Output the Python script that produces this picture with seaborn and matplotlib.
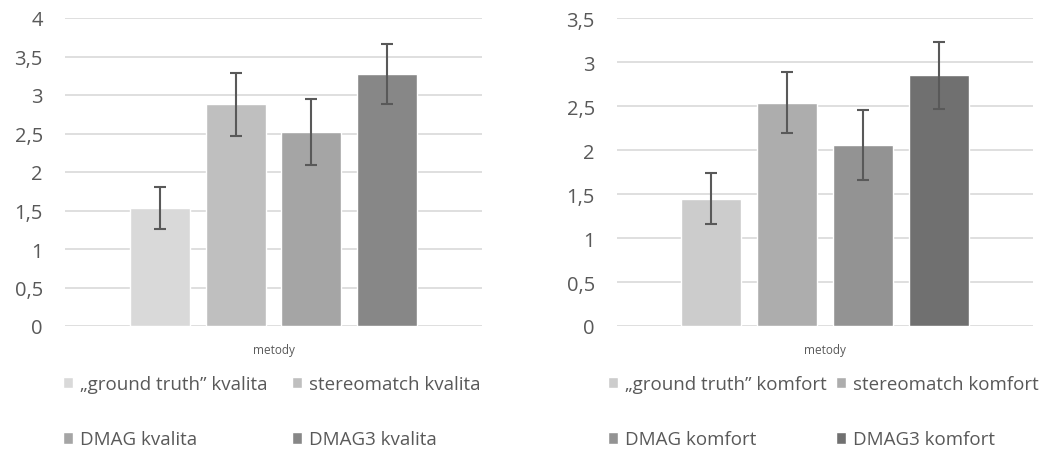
import numpy as np
import pandas as pd
import matplotlib
matplotlib.use("Agg")
import matplotlib.pyplot as plt
import seaborn as sns
from matplotlib.ticker import FuncFormatter

sns.set_theme(style="white")
plt.rcParams['font.family'] = ['Open Sans', 'DejaVu Sans']

metody = ["„ground truth”", "stereomatch", "DMAG", "DMAG3"]

kvalita = [1.53, 2.88, 2.52, 3.27]
kvalita_err = [0.27, 0.41, 0.43, 0.39]
komfort = [1.45, 2.54, 2.06, 2.85]
komfort_err = [0.29, 0.35, 0.40, 0.38]

barvy_kvalita = ["#d9d9d9", "#bfbfbf", "#a5a5a5", "#878787"]
barvy_komfort = ["#cccccc", "#adadad", "#939393", "#707070"]

text_color = "#595959"

fig = plt.figure(figsize=(10.42, 4.52), dpi=100)
ax1 = fig.add_axes([65 / 1042, 125 / 452, 417 / 1042, 308 / 452])
ax2 = fig.add_axes([617 / 1042, 125 / 452, 416 / 1042, 307.7 / 452])


def panel(ax, values, errs, suffix, colors, ymax, colspace, anchor_x):
    labels = [m + " " + suffix for m in metody]
    df = pd.DataFrame({
        "osa": ["metody"] * len(metody),
        "hodnota": values,
        "metoda": labels,
    })
    sns.barplot(data=df, x="osa", y="hodnota", hue="metoda", palette=colors,
                errorbar=None, gap=0.21, saturation=1, legend=False, ax=ax)
    for cont, e in zip(ax.containers, errs):
        p = cont.patches[0]
        ax.errorbar(p.get_x() + p.get_width() / 2, p.get_height(), yerr=e,
                    fmt="none", ecolor=text_color, elinewidth=1.5,
                    capsize=4, capthick=1.5, zorder=3)
    ax.set_ylim(0, ymax)
    ax.set_xlim(-0.549, 0.549)
    ax.set_yticks(np.arange(0, ymax + 0.01, 0.5))
    ax.yaxis.set_major_formatter(FuncFormatter(lambda v, _: f"{v:g}".replace(".", ",")))
    ax.grid(axis="y", color="#d9d9d9", linewidth=1.2)
    ax.set_axisbelow(True)
    for s in ax.spines.values():
        s.set_visible(False)
    ax.tick_params(axis="y", length=0, pad=16, labelsize=14.5, labelcolor=text_color)
    ax.tick_params(axis="x", length=0, pad=12, labelsize=8.5, labelcolor=text_color)
    ax.set_xlabel("")
    ax.set_ylabel("")
    # Excel fills the legend row by row
    order = [0, 2, 1, 3]
    handles = [ax.containers[i].patches[0] for i in order]
    leg = ax.legend(handles, [labels[i] for i in order], loc="upper left",
                    bbox_to_anchor=(anchor_x / 1042, 1 - 376 / 452),
                    bbox_transform=fig.transFigure, ncol=2,
                    frameon=False, fontsize=13.5,
                    handlelength=0.55, handleheight=0.55, handletextpad=0.35,
                    columnspacing=colspace, labelspacing=2.0,
                    borderaxespad=0, borderpad=0)
    for t in leg.get_texts():
        t.set_color(text_color)


panel(ax1, kvalita, kvalita_err, "kvalita", barvy_kvalita, 4, 1.3, 63)
panel(ax2, komfort, komfort_err, "komfort", barvy_komfort, 3.5, 0.5, 608)

fig.savefig("out.png", dpi=100)
